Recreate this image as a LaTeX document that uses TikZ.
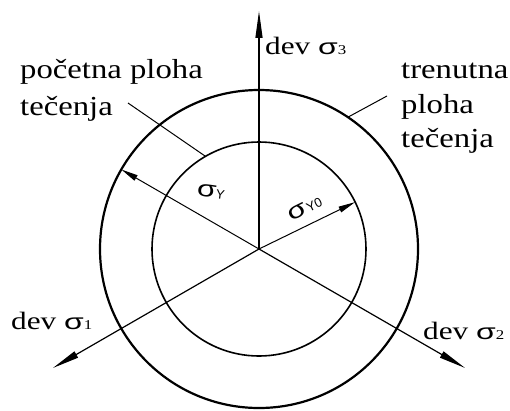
\documentclass[tikz,border=0pt]{standalone}
\usepackage{graphicx}
\usepackage{fontspec}
\setmainfont{Liberation Serif}[FakeStretch=1.19]
\newfontfamily\devfont{Liberation Serif}[FakeStretch=1.25]
\newfontfamily\grkfont{Liberation Sans}
\usetikzlibrary{arrows.meta}
\newcommand{\dsig}[1]{{\fontsize{22}{22}\grkfont\scalebox{1.45}[1]{σ}}{\fontsize{13.5}{13.5}\selectfont #1}}
\newcommand{\ysig}[1]{{\fontsize{23}{23}\grkfont\scalebox{1.35}[1]{σ}}{\fontsize{13}{13}\grkfont #1}}
\tikzset{
  axis/.style={line width=1.2pt, -{Triangle[length=27pt,width=7pt]}},
  radarrow/.style={line width=1pt, -{Triangle[length=17pt,width=6pt]}},
  surface/.style={line width=2pt},
  leader/.style={line width=1pt},
  lbl/.style={anchor=base west, inner sep=0pt, font=\fontsize{27.5}{27.5}\selectfont},
  devlbl/.style={anchor=base west, inner sep=0pt, font=\fontsize{25}{25}\devfont},
}
\begin{document}
\begin{tikzpicture}
[x=1pt,y=1pt]
\useasboundingbox (-259,-161) rectangle (251,249);
\coordinate (O) at (0,0);
% deviatoric axes
\coordinate (a3) at (90:238);
\coordinate (a1) at (210:238);
\coordinate (a2) at (-30:238);
\draw[axis] (O) -- (a3);
\draw[axis] (O) -- (a1);
\draw[axis] (O) -- (a2);
\node[devlbl] (d3) at (6,194) {dev \dsig{3}};
\node[devlbl] (d1) at (-248,-80) {dev \dsig{1}};
\node[devlbl] (d2) at (164,-90) {dev \dsig{2}};
% yield surfaces
\draw[surface, line width=2.2pt] (O) circle[radius=159];
\draw[surface, line width=1.6pt] (O) circle[radius=107];
% radii
\coordinate (rY) at (150:159);
\coordinate (rY0) at (26:107);
\draw[radarrow] (O) -- (rY);
\draw[radarrow] (O) -- (rY0);
\node[inner sep=0pt, rotate=-8] (sY) at (-48,57) {\ysig{Y}};
\node[inner sep=0pt, rotate=26] (sY0) at (46,41) {\ysig{Y0}};
% labels with leaders
\node[lbl] (poc1) at (-239,171) {početna ploha};
\node[lbl] (poc2) at (-239,134) {tečenja};
\coordinate (pocA) at (-131,146);
\coordinate (pocB) at (120:107);
\draw[leader] (pocA) -- (pocB);
\node[lbl] (tre1) at (142,171) {trenutna};
\node[lbl] (tre2) at (142,136) {ploha};
\node[lbl] (tre3) at (142,102) {tečenja};
\coordinate (treA) at (56:159);
\coordinate (treB) at (128,153);
\draw[leader] (treA) -- (treB);
\end{tikzpicture}
\end{document}
